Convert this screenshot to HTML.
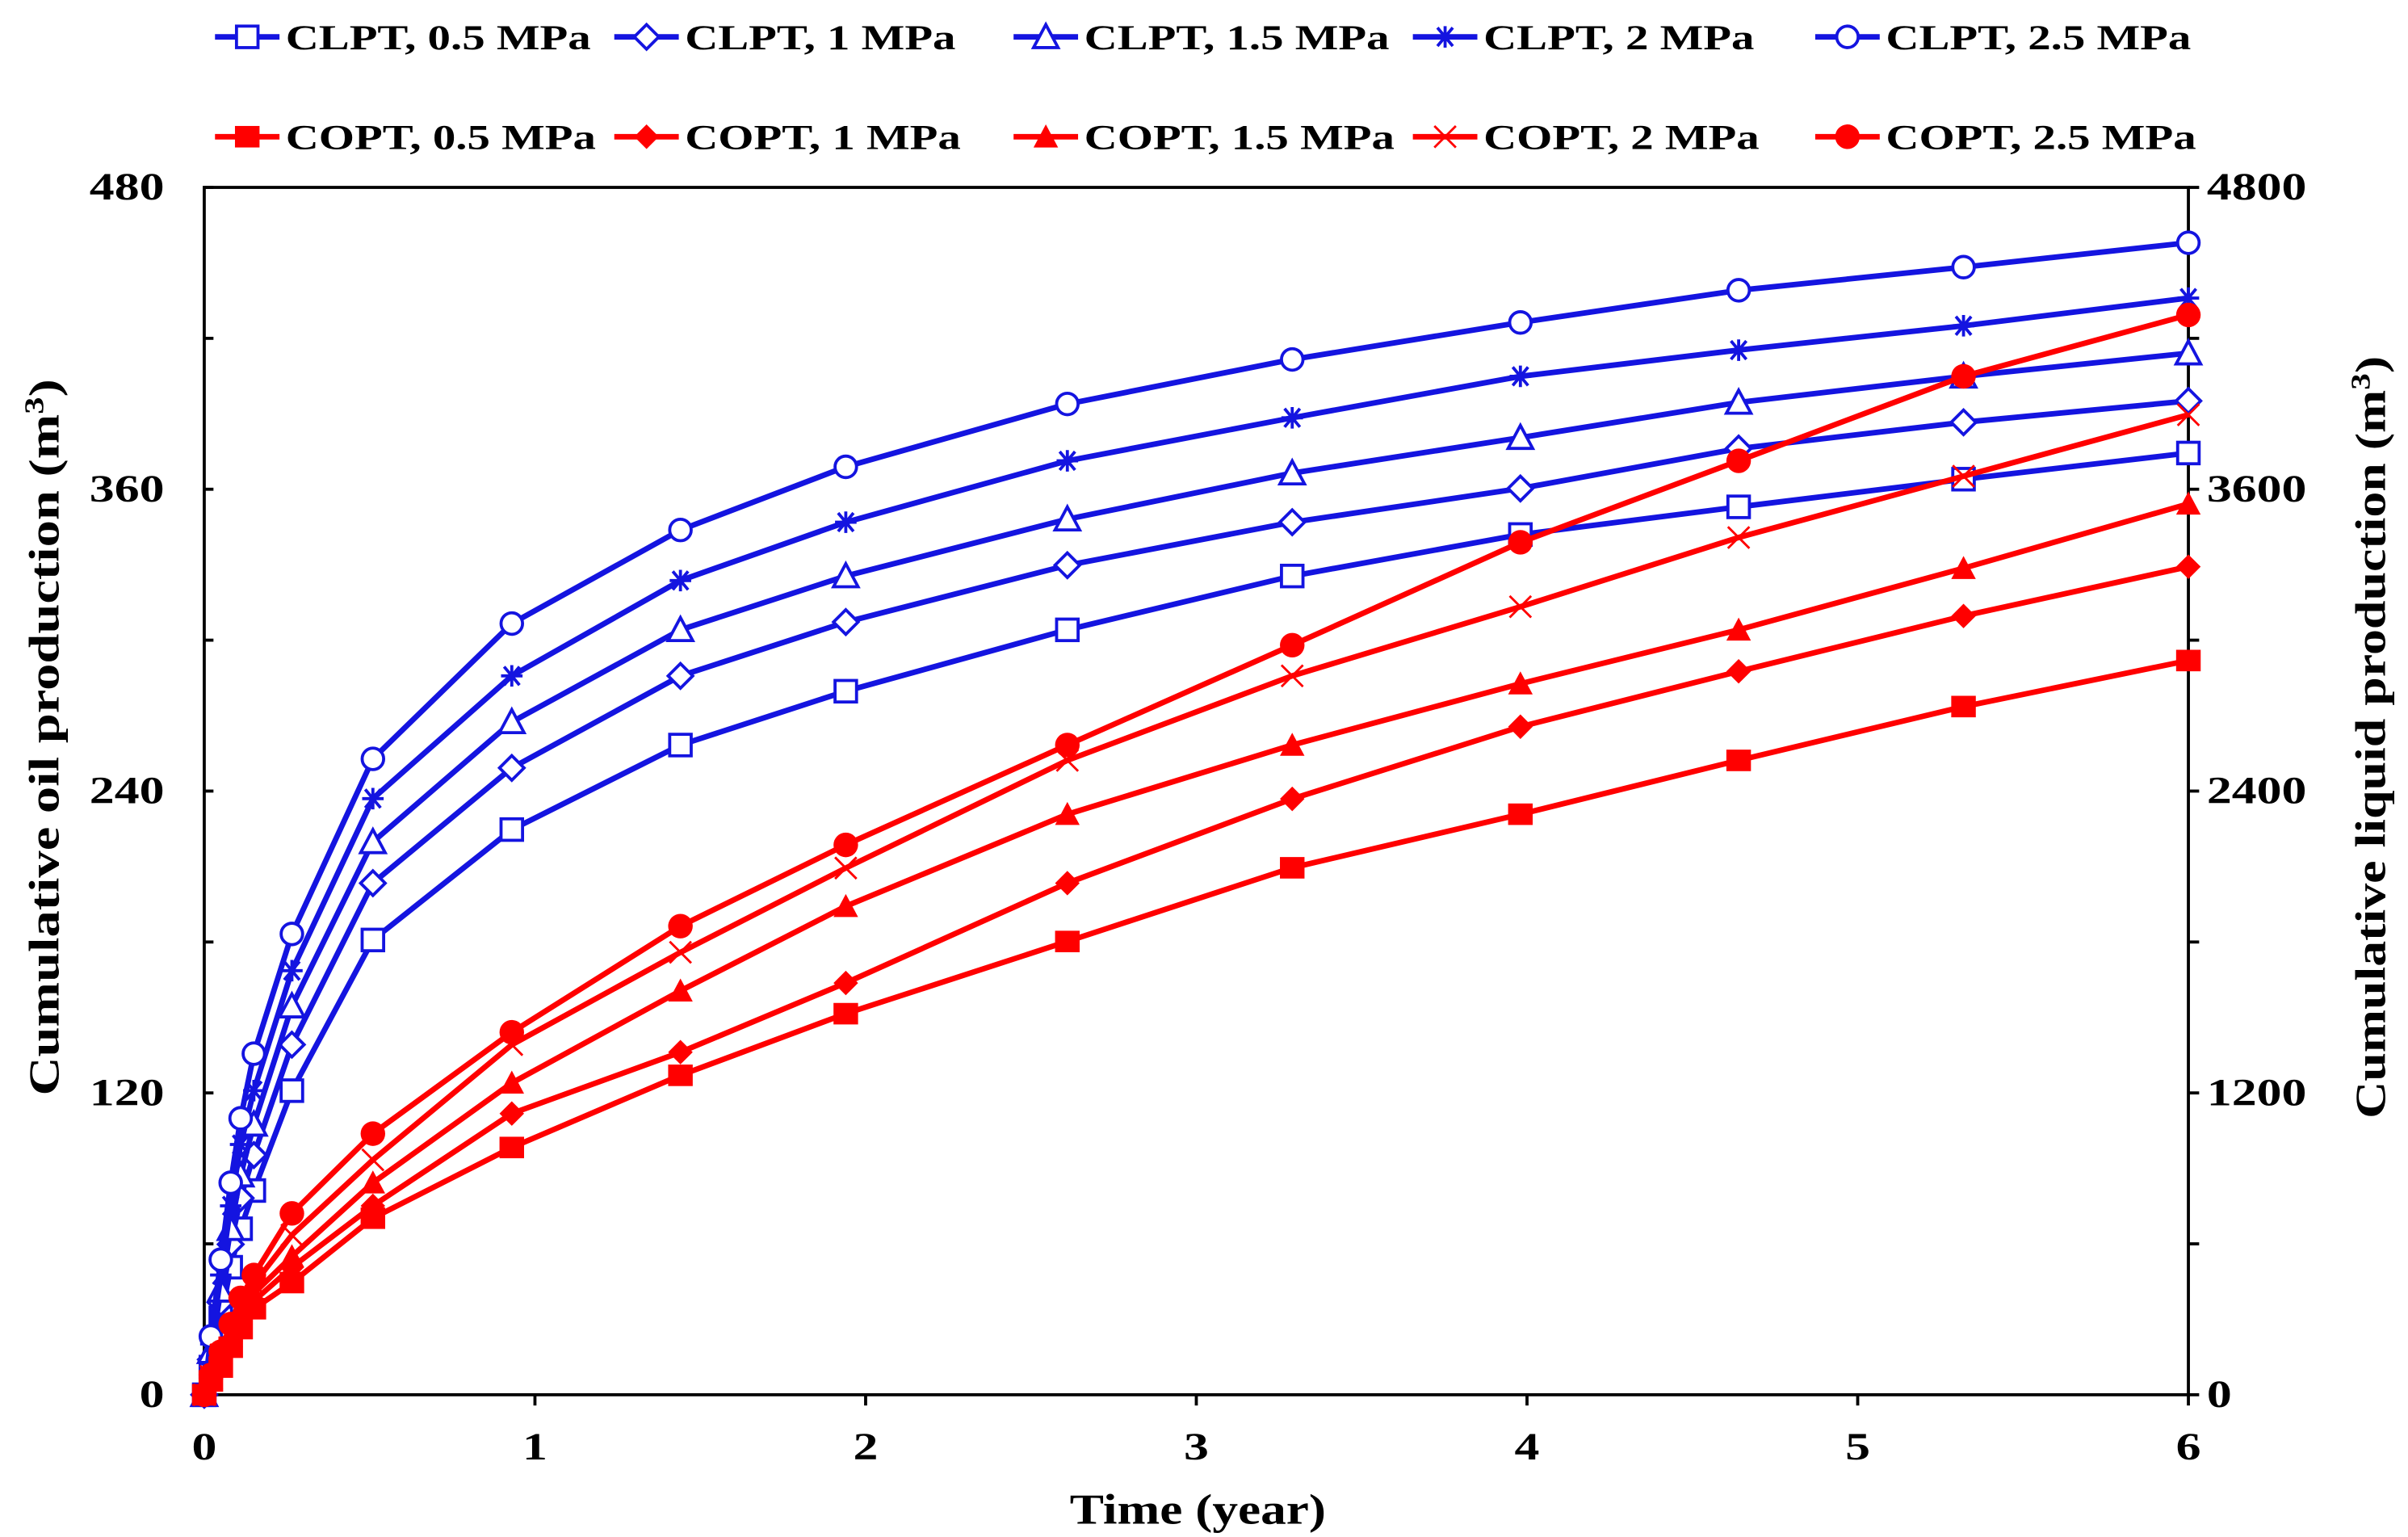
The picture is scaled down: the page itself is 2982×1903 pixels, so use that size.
<!DOCTYPE html>
<html><head><meta charset="utf-8"><style>
html,body{margin:0;padding:0;background:#fff;}
svg{display:block;}
text{font-family:"Liberation Serif",serif;font-weight:bold;fill:#000;}
</style></head><body>
<svg id="chart" width="2982" height="1903" viewBox="0 0 1568 1000.6" preserveAspectRatio="none" xmlns="http://www.w3.org/2000/svg">
<g id="axes"></g>
<g id="series"></g>
<g id="legend"></g>
</svg>
<script>
const times = [0,0.02,0.05,0.08,0.11,0.15,0.265,0.51,0.93,1.44,1.94,2.61,3.29,3.98,4.64,5.32,6];
const clpt05 = [0,110,305,507,660,812,1209,1808,2247,2583,2797,3041,3255,3420,3530,3640,3744];
const clpt10 = [0,140,366,598,782,953,1392,2034,2492,2858,3072,3298,3469,3603,3762,3866,3951];
const clpt15 = [0,171,415,660,873,1075,1545,2198,2675,3041,3255,3481,3664,3805,3945,4049,4141];
const clpt20 = [0,202,476,751,995,1209,1686,2370,2858,3237,3469,3713,3884,4049,4153,4250,4360];
const clpt25 = [0,232,537,843,1099,1356,1832,2528,3066,3438,3689,3939,4116,4263,4391,4483,4580];
const copt05 = [0,5.5,11.0,18.9,26.3,34.2,44.6,70.2,98.3,127.0,151.5,180.2,209.5,230.8,252.2,273.6,291.9];
const copt10 = [0,6.1,12.2,21.4,29.3,37.3,50.7,75.1,111.8,136.2,163.7,203.4,236.9,265.6,287.6,309.6,329.2];
const copt15 = [0,6.7,14.0,23.2,32.4,40.3,55.0,84.3,124.0,160.6,194.2,230.8,258.3,282.7,304.1,328.6,354.2];
const copt20 = [0,7.3,15.9,25.7,35.4,44.0,63.5,93.4,139.2,175.9,209.4,252.2,285.8,313.3,340.8,365.2,389.6];
const copt25 = [0,7.9,17.1,28.1,38.5,47.6,72.1,103.8,144.1,186.3,218.6,258.3,298.0,338.9,371.3,404.9,429.3];
const xTicks = [0,1,2,3,4,5,6];
const leftTicks = [0,120,240,360,480];
const rightTicks = [0,1200,2400,3600,4800];
const seriesNames = ["CLPT, 0.5 MPa","CLPT, 1 MPa","CLPT, 1.5 MPa","CLPT, 2 MPa","CLPT, 2.5 MPa","COPT, 0.5 MPa","COPT, 1 MPa","COPT, 1.5 MPa","COPT, 2 MPa","COPT, 2.5 MPa"];

const NS="http://www.w3.org/2000/svg";
const L=133,R=1425,T=122,B=908;
const xS=t=>L+(t/6)*(R-L);
const yL=v=>B-(v/480)*(B-T);
const yR=v=>B-(v/4800)*(B-T);
function mk(tag,attrs,parent){const e=document.createElementNS(NS,tag);for(const k in attrs)e.setAttribute(k,attrs[k]);parent.appendChild(e);return e;}
const axes=document.getElementById('axes'),ser=document.getElementById('series'),leg=document.getElementById('legend');

function stext(parent,x,y,sx,anchor,size,content,rot){
  const g=mk('g',{transform:`translate(${x},${y})`+(rot?` rotate(${rot})`:'')+` scale(${sx},1)`},parent);
  const t=mk('text',{x:0,y:0,'text-anchor':anchor,'font-size':size},g);
  t.innerHTML=content;
  return t;
}

let e;
e=mk('rect',{x:L,y:T,width:R-L,height:B-T,fill:'none',stroke:'#000','stroke-width':2},axes);


xTicks.forEach(t=>{
  e=mk('line',{x1:xS(t),x2:xS(t),y1:B,y2:B+7,stroke:'#000','stroke-width':2},axes);
  
  
  e=stext(axes,xS(t),B+42,1.3,'middle',25,t);
  
  
});
for(let i=0;i<=8;i++){
  const y=B-i*(B-T)/8;
  e=mk('line',{x1:L,x2:L+6,y1:y,y2:y,stroke:'#000','stroke-width':2},axes);
  
  
  e=mk('line',{x1:R,x2:R+7,y1:y,y2:y,stroke:'#000','stroke-width':2},axes);
  
  
}
leftTicks.forEach(v=>{
  e=stext(axes,107,yL(v)+8,1.3,'end',25,v);
  
  
});
rightTicks.forEach(v=>{
  e=stext(axes,1437,yR(v)+8,1.3,'start',25,v);
  
  
});
e=stext(axes,780,992,1.19,'middle',28,'Time (year)');


e=stext(axes,38,480,1.25,'middle',28,'Cumulative oil production (m<tspan dy="-10" font-size="18">3</tspan><tspan dy="10">)</tspan>',-90);


e=stext(axes,1553,480,1.2,'middle',28,'Cumulative liquid production (m<tspan dy="-10" font-size="18">3</tspan><tspan dy="10">)</tspan>',-90);



const BLUE='#1414e0',RED='#ff0000';
function marker(type,x,y,color,g){
  const s=7;let m;
  if(type==='osq')m=mk('rect',{x:x-s,y:y-s,width:2*s,height:2*s,fill:'#fff',stroke:color,'stroke-width':2},g);
  else if(type==='odia')m=mk('polygon',{points:`${x},${y-s-1} ${x+s+1},${y} ${x},${y+s+1} ${x-s-1},${y}`,fill:'#fff',stroke:color,'stroke-width':2},g);
  else if(type==='otri')m=mk('polygon',{points:`${x},${y-s-1} ${x+s+1},${y+s} ${x-s-1},${y+s}`,fill:'#fff',stroke:color,'stroke-width':2},g);
  else if(type==='ast')m=mk('path',{d:`M${x-s},${y}H${x+s}M${x-5},${y-6}L${x+5},${y+6}M${x+5},${y-6}L${x-5},${y+6}M${x},${y-s}V${y+s}`,stroke:color,'stroke-width':2,fill:'none'},g);
  else if(type==='ocir')m=mk('circle',{cx:x,cy:y,r:s,fill:'#fff',stroke:color,'stroke-width':2},g);
  else if(type==='fsq')m=mk('rect',{x:x-s-1,y:y-s,width:2*s+2,height:2*s,fill:color},g);
  else if(type==='fdia')m=mk('polygon',{points:`${x},${y-s-1} ${x+s+1},${y} ${x},${y+s+1} ${x-s-1},${y}`,fill:color},g);
  else if(type==='ftri')m=mk('polygon',{points:`${x},${y-s-1} ${x+s+1},${y+s} ${x-s-1},${y+s}`,fill:color},g);
  else if(type==='x')m=mk('path',{d:`M${x-s},${y-s}L${x+s},${y+s}M${x+s},${y-s}L${x-s},${y+s}`,stroke:color,'stroke-width':1.5,fill:'none'},g);
  else m=mk('circle',{cx:x,cy:y,r:s+1,fill:color},g);
  
  
}
const defs=[
 {v:clpt05,m:'osq',c:BLUE,y:yR,n:'clpt-0-5'},{v:clpt10,m:'odia',c:BLUE,y:yR,n:'clpt-1'},
 {v:clpt15,m:'otri',c:BLUE,y:yR,n:'clpt-1-5'},{v:clpt20,m:'ast',c:BLUE,y:yR,n:'clpt-2'},
 {v:clpt25,m:'ocir',c:BLUE,y:yR,n:'clpt-2-5'},
 {v:copt05,m:'fsq',c:RED,y:yL,n:'copt-0-5'},{v:copt10,m:'fdia',c:RED,y:yL,n:'copt-1'},
 {v:copt15,m:'ftri',c:RED,y:yL,n:'copt-1-5'},{v:copt20,m:'x',c:RED,y:yL,n:'copt-2'},
 {v:copt25,m:'fcir',c:RED,y:yL,n:'copt-2-5'}];
defs.forEach(d=>{
  const g=mk('g',{},ser);
  
  
  const pts=times.map((t,i)=>xS(t).toFixed(1)+','+d.y(d.v[i]).toFixed(1)).join(' ');
  const pl=mk('polyline',{points:pts,fill:'none',stroke:d.c,'stroke-width':3.6,'stroke-linejoin':'round'},g);
  
  
  times.forEach((t,i)=>marker(d.m,xS(t),d.y(d.v[i]),d.c,g));
});
const legX=[140,400,660,920,1182];
defs.forEach((d,i)=>{
  const x=legX[i%5],y=i<5?24:89;
  const g=mk('g',{},leg);
  
  
  mk('line',{x1:x,x2:x+42,y1:y,y2:y,stroke:d.c,'stroke-width':3.6},g);
  marker(d.m,x+21,y,d.c,g);
  const t=stext(g,x+46,y+8,1.3,'start',23,seriesNames[i]);
  
  
});
</script>
</body></html>
